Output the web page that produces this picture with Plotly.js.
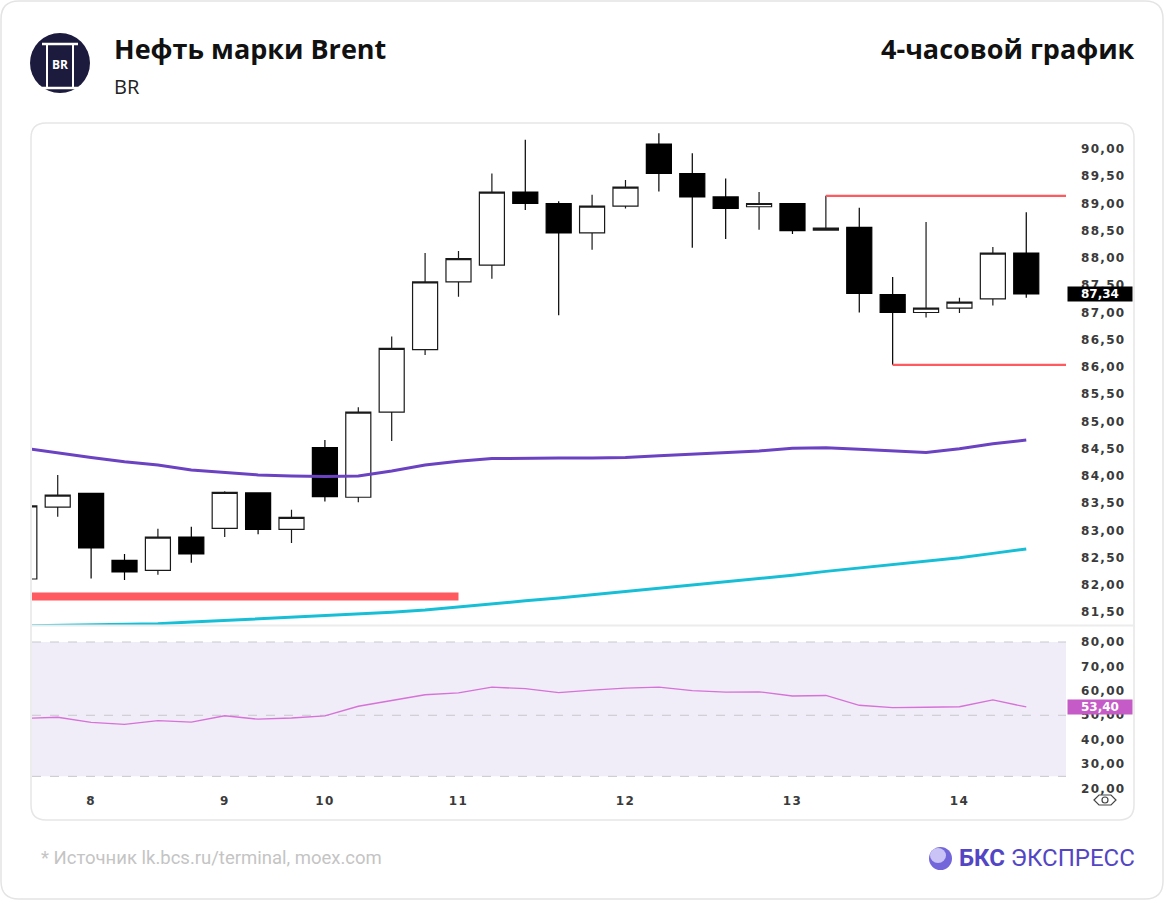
<!DOCTYPE html>
<html>
<head>
<meta charset="utf-8">
<script src="https://cdn.plot.ly/plotly-3.0.1.min.js"></script>
<style>
  html, body { margin: 0; padding: 0; background: #ffffff; }
  #chart { width: 1164px; height: 900px; }
  .ytick text, .y2tick text, .xtick text { letter-spacing: 1.3px; }
</style>
</head>
<body>
<div id="chart"></div>
<script>
// ---------------- DATA ----------------
const tickPositions = [2, 6, 9, 13, 18, 23, 28];
const tickLabels = ['8', '9', '10', '11', '12', '13', '14'];

const openP  = [82.11, 83.43, 83.68, 82.45, 82.27, 82.88, 83.04, 83.69, 83.02, 84.52, 83.61, 85.17, 86.32, 87.56, 87.87, 89.21, 89.00, 88.46, 88.95, 90.09, 89.55, 89.12, 88.94, 89.00, 88.51, 88.56, 87.33, 87.00, 87.08, 87.25, 88.09];
const highP  = [83.50, 84.02, 83.68, 82.57, 83.03, 83.07, 83.72, 83.70, 83.38, 84.66, 85.26, 86.56, 88.09, 88.13, 89.55, 90.17, 89.04, 89.16, 89.43, 90.29, 89.92, 89.46, 89.21, 89.00, 89.14, 88.92, 87.65, 88.66, 87.27, 88.20, 88.84];
const lowP   = [82.05, 83.25, 82.12, 82.09, 82.19, 82.41, 82.88, 82.93, 82.77, 83.53, 83.52, 84.64, 86.22, 87.29, 87.62, 88.88, 86.95, 88.15, 88.91, 89.22, 88.19, 88.35, 88.52, 88.44, 88.50, 87.00, 86.04, 86.91, 86.99, 87.13, 87.27];
const closeP = [83.45, 83.65, 82.68, 82.24, 82.88, 82.57, 83.70, 83.02, 83.24, 83.62, 85.17, 86.34, 87.56, 87.99, 89.21, 89.00, 88.46, 88.95, 89.30, 89.55, 89.12, 88.91, 89.00, 88.50, 88.55, 87.35, 87.00, 87.08, 87.19, 88.09, 87.34];

const maSlow = [84.51, 84.42, 84.34, 84.26, 84.20, 84.11, 84.06, 84.02, 84.00, 83.99, 84.00, 84.09, 84.20, 84.27, 84.32, 84.33, 84.33, 84.33, 84.34, 84.37, 84.40, 84.43, 84.46, 84.51, 84.52, 84.49, 84.46, 84.43, 84.50, 84.59, 84.66];
const maLong = [81.25, 81.26, 81.27, 81.28, 81.29, 81.32, 81.35, 81.38, 81.40, 81.43, 81.46, 81.50, 81.54, 81.60, 81.65, 81.71, 81.76, 81.82, 81.87, 81.94, 82.00, 82.06, 82.12, 82.18, 82.25, 82.31, 82.38, 82.43, 82.50, 82.58, 82.66];

const rsi = [48.7, 49.2, 47.1, 46.3, 47.8, 47.2, 49.8, 48.4, 48.9, 49.8, 53.7, 56.0, 58.4, 59.2, 61.5, 60.9, 59.3, 60.3, 61.1, 61.5, 60.1, 59.5, 59.6, 57.9, 58.1, 54.1, 53.1, 53.3, 53.5, 56.3, 53.4];

// support / resistance levels: price, first candle, last candle
const levelPrice = [81.79, 89.14, 86.04];
const levelFrom  = [-1, 24, 26];
const levelTo    = [13, 40, 40];

const priceTicks = [81.5, 82, 82.5, 83, 83.5, 84, 84.5, 85, 85.5, 86, 86.5, 87, 87.5, 88, 88.5, 89, 89.5, 90];
const rsiTicks = [20, 30, 40, 50, 60, 70, 80];
const rsiBand = [25, 80];
const rsiMid = 50;

// ---------------- helpers ----------------
const W = 1164, H = 900;
const px = x => x / W;
const py = y => 1 - y / H;
const fmt = v => v.toFixed(2).replace('.', ',');
const idx = openP.map((_, i) => i);

function roundRect(x0, y0, x1, y1, r) {
  return `M${px(x0 + r)},${py(y0)} L${px(x1 - r)},${py(y0)} Q${px(x1)},${py(y0)} ${px(x1)},${py(y0 + r)} ` +
         `L${px(x1)},${py(y1 - r)} Q${px(x1)},${py(y1)} ${px(x1 - r)},${py(y1)} ` +
         `L${px(x0 + r)},${py(y1)} Q${px(x0)},${py(y1)} ${px(x0)},${py(y1 - r)} ` +
         `L${px(x0)},${py(y0 + r)} Q${px(x0)},${py(y0)} ${px(x0 + r)},${py(y0)} Z`;
}
function pline(x0, y0, x1, y1) {
  return `M${px(x0)},${py(y0)} L${px(x1)},${py(y1)}`;
}

const AXFONT = { family: 'DejaVu Sans', size: 12, color: '#3a3a3a', weight: 'bold' };
const PLOT_L = 32, PLOT_R = 1066;

// ---------------- traces ----------------
const traces = [];

traces.push({
  type: 'scatter', mode: 'lines', x: idx, y: maLong, xaxis: 'x', yaxis: 'y',
  line: { color: '#17bfd6', width: 3 }, hoverinfo: 'skip'
});
traces.push({
  type: 'scatter', mode: 'lines', x: idx, y: maSlow, xaxis: 'x', yaxis: 'y',
  line: { color: '#6b42c1', width: 3 }, hoverinfo: 'skip'
});

levelPrice.forEach((p, k) => {
  traces.push({
    type: 'scatter', mode: 'lines', x: [levelFrom[k], levelTo[k]], y: [p, p],
    xaxis: 'x', yaxis: 'y', line: { color: '#ff5a5f', width: k === 0 ? 8 : 2.2 }, hoverinfo: 'skip'
  });
});

traces.push({
  type: 'candlestick', x: idx, open: openP, high: highP, low: lowP, close: closeP,
  xaxis: 'x', yaxis: 'y', whiskerwidth: 0,
  increasing: { line: { color: '#1a1a1a', width: 1.2 }, fillcolor: '#ffffff' },
  decreasing: { line: { color: '#000000', width: 1.2 }, fillcolor: '#000000' },
  hoverinfo: 'skip'
});

traces.push({
  type: 'scatter', mode: 'lines', x: idx, y: rsi, xaxis: 'x', yaxis: 'y2',
  line: { color: '#d672d8', width: 1.3 }, hoverinfo: 'skip'
});

// ---------------- shapes ----------------
const shapes = [
  { type: 'path', xref: 'paper', yref: 'paper', path: roundRect(1, 1, 1163, 899, 18), line: { color: '#e4e4e4', width: 1.5 }, layer: 'below' },
  { type: 'path', xref: 'paper', yref: 'paper', path: roundRect(31, 123, 1134, 820, 15), line: { color: '#e6e6e6', width: 1.5 }, layer: 'below' },
  { type: 'path', xref: 'paper', yref: 'paper', path: pline(31, 625.5, 1134, 625.5), line: { color: '#ececec', width: 2 }, layer: 'above' },
  { type: 'rect', xref: 'paper', yref: 'y2', x0: px(PLOT_L), x1: px(PLOT_R), y0: rsiBand[0], y1: rsiBand[1], fillcolor: '#f0ecf8', line: { width: 0 }, layer: 'below' },
  // logo
  { type: 'circle', xref: 'paper', yref: 'paper', x0: px(30), x1: px(90), y0: py(93), y1: py(33), fillcolor: '#1c1b3e', line: { width: 0 } },
  { type: 'path', xref: 'paper', yref: 'paper', path: pline(42, 44, 78, 44), line: { color: '#ffffff', width: 2.5 } },
  { type: 'path', xref: 'paper', yref: 'paper', path: pline(42, 88, 78, 88), line: { color: '#ffffff', width: 2.5 } },
  { type: 'path', xref: 'paper', yref: 'paper', path: pline(47, 44, 47, 88), line: { color: '#ffffff', width: 2 } },
  { type: 'path', xref: 'paper', yref: 'paper', path: pline(73, 44, 73, 88), line: { color: '#ffffff', width: 2 } },
  // footer sphere
  { type: 'circle', xref: 'paper', yref: 'paper', x0: px(929), x1: px(952), y0: py(870), y1: py(847), fillcolor: '#7266da', line: { width: 0 } },
  { type: 'circle', xref: 'paper', yref: 'paper', x0: px(930), x1: px(946), y0: py(863), y1: py(848), fillcolor: '#c9c3f6', line: { width: 0 } },
  // eye icon
  { type: 'path', xref: 'paper', yref: 'paper', path: `M${px(1094)},${py(800)} L${px(1099)},${py(795)} L${px(1111)},${py(795)} L${px(1116)},${py(800)} L${px(1111)},${py(805)} L${px(1099)},${py(805)} Z`, line: { color: '#444', width: 1.2 } },
  { type: 'circle', xref: 'paper', yref: 'paper', x0: px(1102), x1: px(1108), y0: py(803), y1: py(797), line: { color: '#444', width: 1.2 } }
];
[rsiBand[1], rsiMid, rsiBand[0]].forEach(v => {
  shapes.push({ type: 'line', xref: 'paper', yref: 'y2', x0: px(PLOT_L), x1: px(PLOT_R), y0: v, y1: v,
    line: { color: '#c8c8cc', width: 1, dash: 'dash' }, layer: 'below' });
});

// ---------------- annotations ----------------
const lastClose = closeP[closeP.length - 1];
const lastRsi = rsi[rsi.length - 1];
const annotations = [
  { xref: 'paper', yref: 'paper', x: px(112), y: py(49), xanchor: 'left', yanchor: 'middle', showarrow: false,
    text: '<b>Нефть марки Brent</b>', font: { family: 'Open Sans', size: 27, color: '#111111' } },
  { xref: 'paper', yref: 'paper', x: px(112), y: py(86), xanchor: 'left', yanchor: 'middle', showarrow: false,
    text: 'BR', font: { family: 'Open Sans', size: 20, color: '#222222' } },
  { xref: 'paper', yref: 'paper', x: px(1137), y: py(49), xanchor: 'right', yanchor: 'middle', showarrow: false,
    text: '<b>4-часовой график</b>', font: { family: 'Open Sans', size: 27, color: '#111111' } },
  { xref: 'paper', yref: 'paper', x: px(60), y: py(64), xanchor: 'center', yanchor: 'middle', showarrow: false,
    text: '<b>BR</b>', font: { family: 'Open Sans', size: 12, color: '#ffffff' } },
  { xref: 'paper', yref: 'paper', x: px(39), y: py(858), xanchor: 'left', yanchor: 'middle', showarrow: false,
    text: '* Источник lk.bcs.ru/terminal, moex.com', font: { family: 'Roboto', size: 18.5, color: '#c4c4c4' } },
  { xref: 'paper', yref: 'paper', x: px(1137), y: py(858), xanchor: 'right', yanchor: 'middle', showarrow: false,
    text: '<b>БКС</b> ЭКСПРЕСС', font: { family: 'Roboto', size: 24, color: '#5346c4' } },
  { xref: 'paper', yref: 'y', x: px(1067), y: lastClose, xanchor: 'left', yanchor: 'middle', showarrow: false,
    text: fmt(lastClose), bgcolor: '#000000', width: 62, height: 12, borderpad: 1,
    font: { family: 'DejaVu Sans', size: 12, color: '#ffffff', weight: 'bold' } },
  { xref: 'paper', yref: 'y2', x: px(1067), y: lastRsi, xanchor: 'left', yanchor: 'middle', showarrow: false,
    text: fmt(lastRsi), bgcolor: '#c55bc7', width: 62, height: 12, borderpad: 1,
    font: { family: 'DejaVu Sans', size: 12, color: '#ffffff', weight: 'bold' } }
];

// ---------------- layout ----------------
const layout = {
  width: W, height: H,
  margin: { l: 0, r: 0, t: 0, b: 0 },
  paper_bgcolor: '#ffffff', plot_bgcolor: 'rgba(0,0,0,0)',
  showlegend: false, hovermode: false,
  separators: ', ',
  boxgap: 0.25, boxgroupgap: 0,
  xaxis: {
    domain: [px(PLOT_L), px(PLOT_R)], range: [0.23, 31.19], anchor: 'y2',
    tickvals: tickPositions, ticktext: tickLabels, ticks: '', showgrid: false, zeroline: false, showline: false,
    tickfont: AXFONT, rangeslider: { visible: false }, fixedrange: true
  },
  yaxis: {
    domain: [py(625), py(125)], range: [81.266, 90.44], side: 'right', anchor: 'x',
    tickvals: priceTicks, tickformat: '.2f', ticks: '', showgrid: false, zeroline: false, showline: false,
    tickfont: AXFONT, ticklabelstandoff: 14, fixedrange: true
  },
  yaxis2: {
    domain: [py(792), py(627)], range: [18.6, 86.14], side: 'right', anchor: 'x',
    tickvals: rsiTicks, tickformat: '.2f', ticks: '', showgrid: false, zeroline: false, showline: false,
    tickfont: AXFONT, ticklabelstandoff: 14, fixedrange: true
  },
  shapes: shapes,
  annotations: annotations
};

Plotly.newPlot('chart', traces, layout, { staticPlot: true, displayModeBar: false });
</script>
</body>
</html>
